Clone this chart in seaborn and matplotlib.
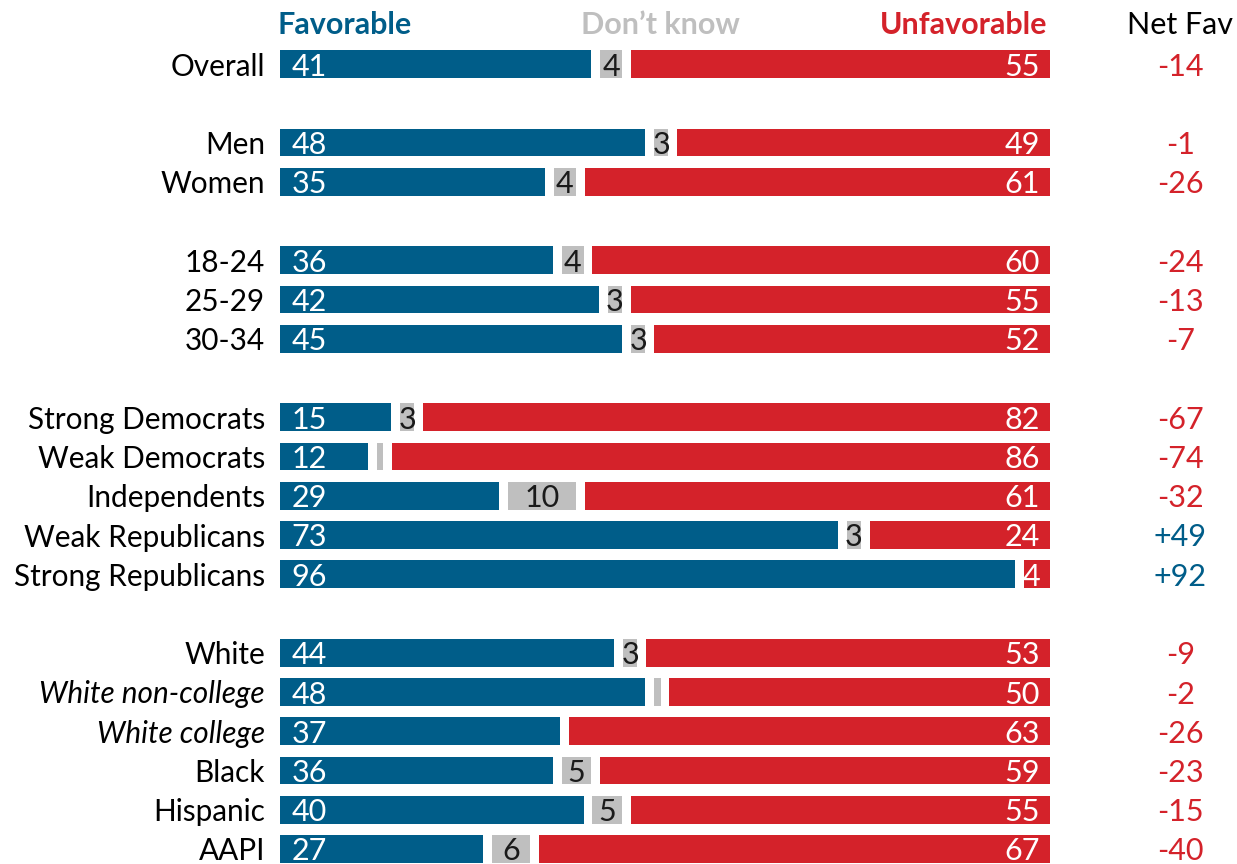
import numpy as np
import pandas as pd
import matplotlib
matplotlib.use("Agg")
import matplotlib.pyplot as plt
import seaborn as sns

# ---------------- data ----------------
groups = ["Overall", "Men", "Women", "18-24", "25-29", "30-34",
          "Strong Democrats", "Weak Democrats", "Independents",
          "Weak Republicans", "Strong Republicans",
          "White", "White non-college", "White college", "Black",
          "Hispanic", "AAPI"]
italic_groups = ["White non-college", "White college"]
block = [0, 1, 1, 2, 2, 2, 3, 3, 3, 3, 3, 4, 4, 4, 4, 4, 4]
favorable = [41, 48, 35, 36, 42, 45, 15, 12, 29, 73, 96, 44, 48, 37, 36, 40, 27]
dont_know = [4, 3, 4, 4, 3, 3, 3, 2, 10, 3, 0, 3, 2, 0, 5, 5, 6]
unfavorable = [55, 49, 61, 60, 55, 52, 82, 86, 61, 24, 4, 53, 50, 63, 59, 55, 67]
net_fav = [-14, -1, -26, -24, -13, -7, -67, -74, -32, 49, 92, -9, -2, -26, -23, -15, -40]
headers = ["Favorable", "Don\u2019t know", "Unfavorable", "Net Fav"]

# ---------------- style ----------------
BLUE = "#005d89"
RED = "#d4222a"
GRAY = "#bfbfbf"
sns.set_theme(style="white")
plt.rcParams["font.family"] = ["Lato", "DejaVu Sans"]

df = pd.DataFrame({"group": groups, "fav": favorable, "dk": dont_know,
                   "unf": unfavorable, "net": net_fav})
df["y"] = np.arange(len(df)) + np.array(block)

W, H = 1237, 864
fig = plt.figure(figsize=(W / 100, H / 100), dpi=100)
ax = fig.add_axes([0, 0, 1, 1])

px = 7.7            # pixels per percentage point
x0 = 280            # pixel position of 0%
row = 39.25         # pixels per row
y0 = 64             # pixel centre of first row
half_gap = 0.58
bar_h = 0.71
fs = 22
fs_lab = 21.4

# favorable segment via seaborn
df["fav_w"] = df["fav"] - half_gap
sns.barplot(data=df, x="fav_w", y="y", orient="y", native_scale=True,
            color=BLUE, width=bar_h, errorbar=None, saturation=1, ax=ax,
            linewidth=0)

# don't-know and unfavorable segments
for _, r in df.iterrows():
    if r["dk"] > 0:
        ax.barh(r["y"], r["dk"] - 2 * half_gap, left=r["fav"] + half_gap,
                height=bar_h, color=GRAY, linewidth=0)
    ax.barh(r["y"], r["unf"] - half_gap, left=r["fav"] + r["dk"] + half_gap,
            height=bar_h, color=RED, linewidth=0)

    # labels
    ax.text(1.5, r["y"], f"{int(r['fav'])}", color="white", fontsize=fs,
            ha="left", va="center_baseline")
    ax.text(98.7, r["y"], f"{int(r['unf'])}", color="white", fontsize=fs,
            ha="right", va="center_baseline")
    if r["dk"] >= 3:
        ax.text(r["fav"] + r["dk"] / 2, r["y"], f"{int(r['dk'])}",
                color="#1a1a1a", fontsize=fs, ha="center", va="center_baseline")
    style = "italic" if r["group"] in italic_groups else "normal"
    ax.text(-1.95, r["y"], r["group"], color="black", fontsize=fs_lab,
            ha="right", va="center_baseline", style=style)
    n = int(r["net"])
    ax.text(116.9, r["y"], f"{n:+d}", color=BLUE if n > 0 else RED,
            fontsize=fs, ha="center", va="center_baseline")

# headers
hy = (22 - y0) / row
ax.text(-0.3, hy, headers[0], color=BLUE, fontsize=fs, fontweight="bold",
        ha="left", va="center_baseline")
ax.text(49.35, hy, headers[1], color=GRAY, fontsize=fs, fontweight="bold",
        ha="center", va="center_baseline")
ax.text(99.6, hy, headers[2], color=RED, fontsize=fs, fontweight="bold",
        ha="right", va="center_baseline")
ax.text(116.9, hy, headers[3], color="black", fontsize=fs,
        ha="center", va="center_baseline")

ax.set_xlim(-x0 / px, (W - x0) / px)
ax.set_ylim((H - y0) / row, -y0 / row)
ax.axis("off")

fig.savefig("out.png", dpi=100)
